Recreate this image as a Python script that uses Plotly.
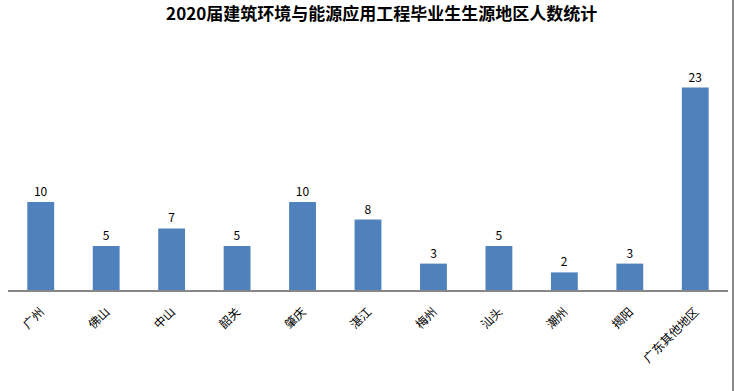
import plotly.graph_objects as go

categories = ["广州", "佛山", "中山", "韶关", "肇庆", "湛江", "梅州", "汕头", "潮州", "揭阳", "广东其他地区"]
counts = [10, 5, 7, 5, 10, 8, 3, 5, 2, 3, 23]
title_text = "2020届建筑环境与能源应用工程毕业生生源地区人数统计"

font_family = "Noto Sans CJK SC, Noto Sans, sans-serif"

fig = go.Figure(go.Bar(
    x=categories,
    y=counts,
    marker=dict(color="#4F81BD", line=dict(width=0)),
    text=[str(v) for v in counts],
    textposition="outside",
    textfont=dict(size=12, color="#000000", family=font_family),
    cliponaxis=False,
    hoverinfo="skip",
))

fig.update_layout(
    width=734, height=391,
    margin=dict(l=8, r=6, t=70, b=101, autoexpand=False),
    paper_bgcolor="white",
    plot_bgcolor="white",
    bargap=0.59,
    showlegend=False,
    title=dict(text="<b>" + title_text + "</b>", x=0.52, xanchor="center", y=0.965, yanchor="middle",
               font=dict(size=17, color="#000000", family=font_family)),
    xaxis=dict(
        tickangle=-45,
        automargin=False,
        ticklabelstandoff=8,
        tickfont=dict(size=12, color="#000000", family=font_family),
        showline=True, linecolor="#868686", linewidth=2,
        showgrid=False, ticks="", zeroline=False,
    ),
    yaxis=dict(
        range=[0, 25],
        visible=False,
        automargin=False,
        showgrid=False, zeroline=False,
    ),
    shapes=[dict(type="line", xref="paper", yref="paper", x0=1.007, x1=1.007, y0=-1, y1=2,
                 line=dict(color="#868686", width=2))],
)

fig.write_html("out.html", config={"displayModeBar": False},
               post_script="document.body.style.margin='0';document.body.style.padding='0';document.body.style.overflow='hidden';")
